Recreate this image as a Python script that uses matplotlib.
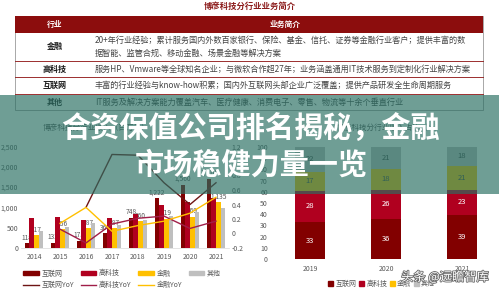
import matplotlib
matplotlib.use('Agg')
import matplotlib.pyplot as plt
import numpy as np
from matplotlib.patches import Rectangle, Patch
from matplotlib.lines import Line2D
import matplotlib.patheffects as pe
from matplotlib.ticker import FuncFormatter, FixedLocator

plt.rcParams['font.family'] = ['Noto Sans CJK SC', 'DejaVu Sans']

# ---------------- data ----------------
table_title = '博彦科技分行业业务简介'
table_header = ['行业', '业务简介']
table_rows = ['金融', '高科技', '互联网', '其他']
table_desc = [
    '20+年行业经验；累计服务国内外数百家银行、保险、基金、信托、证券等金融行业客户；提供丰富的数\n据智能、监管合规、移动金融、场景金融等解决方案',
    '服务HP、Vmware等全球知名企业；与微软合作超27年；业务涵盖通用IT技术服务到定制化行业解决方案',
    '丰富的行业经验与know-how积累；国内外互联网头部企业广泛覆盖；提供产品研发全生命周期服务',
    'IT服务及解决方案能力覆盖汽车、医疗健康、消费电子、零售、物流等十余个垂直行业',
]

years = ['2014', '2015', '2016', '2017', '2018', '2019', '2020', '2021']
rev_internet = [118, 133, 175, 366, 748, 1222, 1560, 1710]
rev_hightech = [735, 760, 690, 735, 830, 1060, 1130, 1220]
rev_finance = [317, 456, 487, 487, 660, 719, 769, 1135]
rev_other = [415, 515, 610, 560, 700, 800, 880, 980]
yoy_internet = [np.nan, np.nan, 0.36, 1.09, 1.08, 0.70, 0.40, 0.70]
yoy_hightech = [np.nan, 0.06, -0.13, 0.13, 0.21, 0.24, 0.07, 0.17]
yoy_finance = [np.nan, 0.14, 0.36, 0.03, 0.11, 0.17, 0.28, 0.50]

share_years = ['2019', '2020', '2021']
share_internet = [33, 36, 39]
share_hightech = [28, 26, 23]
share_finance = [17, 18, 21]
share_other = [22, 21, 18]

series_names = ['互联网', '高科技', '金融', '其他']
yoy_names = ['互联网YoY', '高科技YoY', '金融YoY']
left_subtitle = '博彦科技分行业收入（百万元）'
right_subtitle = '博彦科技分行业收入占比（%）'
headline = ['合资保值公司排名揭秘，金融', '市场稳健力量一览']
watermark = '头条 @远瞻智库'

# ---------------- style ----------------
C_INT = '#820000'
C_HT = '#B0001F'
C_FIN = '#FFC000'
C_OTH = '#BFBFBF'
C_YINT = '#6E1414'
C_YHT = '#A01E48'
C_YFIN = '#FFC000'
GRAY = '#595959'
TABLE_RED = '#8C0D0D'

W, H = 499, 291
fig = plt.figure(figsize=(W / 100, H / 100), dpi=100)


def rect(l, t, r, b):
    return [l / W, 1 - b / H, (r - l) / W, (b - t) / H]


# ---------------- background table ----------------
axt = fig.add_axes([0, 0, 1, 1], zorder=-1)
axt.set_xlim(0, W)
axt.set_ylim(H, 0)
axt.axis('off')

axt.text(250, 6, table_title, ha='center', va='center', fontsize=6,
         color='#8B1A1A', fontweight='bold')
axt.add_patch(Rectangle((15, 16), 468, 94, facecolor='none',
                        edgecolor='#9a9a9a', lw=0.6))
axt.add_patch(Rectangle((15, 16), 468, 17, facecolor=TABLE_RED,
                        edgecolor='none'))
axt.text(55, 24.5, table_header[0], ha='center', va='center', fontsize=5.6,
         color='white', fontweight='bold')
axt.text(285, 24.5, table_header[1], ha='center', va='center', fontsize=5.6,
         color='white', fontweight='bold')
row_edges = [33, 61, 77, 94, 110]
for i, (name, desc) in enumerate(zip(table_rows, table_desc)):
    t, b = row_edges[i], row_edges[i + 1]
    yc = (t + b) / 2
    axt.text(55, yc, name, ha='center', va='center', fontsize=5.8,
             color='#1a1a1a', fontweight='bold')
    axt.text(95, yc, desc, ha='left', va='center', fontsize=5.9,
             color='#454545', linespacing=1.55)
    if i > 0:
        axt.plot([15, 483], [t, t], color=TABLE_RED, lw=0.6)

axt.text(43, 128, left_subtitle, ha='left', va='center', fontsize=5.5,
         color=GRAY)
axt.text(390, 128, right_subtitle, ha='center', va='center', fontsize=5.5,
         color=GRAY)

# ---------------- left chart ----------------
ax1 = fig.add_axes(rect(21, 146.5, 229, 248))
x = np.arange(len(years))
bw = 0.18
series = [rev_internet, rev_hightech, rev_finance, rev_other]
colors = [C_INT, C_HT, C_FIN, C_OTH]
zs = [1, 3, 3, 3]
for k, (vals, col) in enumerate(zip(series, colors)):
    ax1.bar(x + (k - 1.5) * bw, vals, width=bw, color=col, zorder=zs[k],
            label=series_names[k])
for k in (0, 2):
    for xi, v in zip(x, series[k]):
        ax1.text(xi + (k - 1.5) * bw, v + 40, f'{v:,}', ha='center',
                 va='bottom', fontsize=4.8, color=GRAY, zorder=2)
ax1.set_xlim(-0.5, len(years) - 0.5)
ax1.set_ylim(0, 2500)
ax1.yaxis.set_major_locator(FixedLocator([0, 500, 1000, 1500, 2000, 2500]))
ax1.yaxis.set_major_formatter(FuncFormatter(lambda v, p: f'{v:,.0f}'))
ax1.set_xticks(x)
ax1.set_xticklabels(years)
ax1.tick_params(axis='both', length=0, labelsize=5, colors=GRAY)
ax1.tick_params(axis='y', pad=2)
ax1.tick_params(axis='x', pad=3.5)
for s in ['top', 'left', 'right']:
    ax1.spines[s].set_visible(False)
ax1.spines['bottom'].set_color('#d9d9d9')
ax1.spines['bottom'].set_linewidth(0.5)
ax1.patch.set_alpha(0)

ax1b = ax1.twinx()
ax1b.plot(x, yoy_internet, color=C_YINT, lw=1.0, label=yoy_names[0])
ax1b.plot(x, yoy_hightech, color=C_YHT, lw=1.0, label=yoy_names[1])
ax1b.plot(x, yoy_finance, color=C_YFIN, lw=1.0, label=yoy_names[2])
ax1b.set_ylim(-0.2, 1.2)
rticks = [-0.2, 0, 0.2, 0.4, 0.6, 0.8, 1.0, 1.2]
ax1b.yaxis.set_major_locator(FixedLocator(rticks))
ax1b.yaxis.set_major_formatter(FuncFormatter(lambda v, p: f'{v:g}'))
ax1b.tick_params(axis='y', length=0, labelsize=5, colors=GRAY, pad=2)
for s in ax1b.spines.values():
    s.set_visible(False)

handles = [Patch(color=C_INT), Line2D([], [], color=C_YINT, lw=1),
           Patch(color=C_HT), Line2D([], [], color=C_YHT, lw=1),
           Patch(color=C_FIN), Line2D([], [], color=C_YFIN, lw=1),
           Patch(color=C_OTH)]
labels = [series_names[0], yoy_names[0], series_names[1], yoy_names[1],
          series_names[2], yoy_names[2], series_names[3]]
fig.legend(handles, labels, ncol=4, loc='upper left',
           bbox_to_anchor=(20 / W, 1 - 266 / H), frameon=False, fontsize=5,
           handlelength=2.2, handleheight=0.6, handletextpad=0.4,
           columnspacing=1.0, labelspacing=0.5, borderpad=0,
           labelcolor=GRAY)

# ---------------- right chart ----------------
ax2 = fig.add_axes(rect(272, 147, 500, 259))
x2 = np.arange(len(share_years))
bw2 = 0.39
bottom = np.zeros(len(share_years))
stack = [share_internet, share_hightech, share_finance, share_other]
txtcol = ['white', 'white', '#404040', '#404040']
for k, (vals, col) in enumerate(zip(stack, colors)):
    vals = np.array(vals, dtype=float)
    ax2.bar(x2, vals, bw2, bottom=bottom, color=col, label=series_names[k])
    for xi, b, v in zip(x2, bottom, vals):
        ax2.text(xi, b + v / 2, f'{v:.0f}', ha='center', va='center',
                 fontsize=5.5, color=txtcol[k])
    bottom += vals
ax2.set_xlim(-0.5, 2.5)
ax2.set_ylim(0, 100)
ax2.yaxis.set_major_locator(FixedLocator(list(range(0, 101, 10))))
ax2.set_xticks(x2)
ax2.set_xticklabels(share_years)
ax2.tick_params(axis='both', length=0, labelsize=5, colors=GRAY)
ax2.tick_params(axis='y', pad=3)
ax2.tick_params(axis='x', pad=4.5)
for s in ax2.spines.values():
    s.set_visible(False)
ax2.patch.set_alpha(0)
handles2 = [Patch(color=c) for c in colors]
fig.legend(handles2, series_names, ncol=4, loc='center left',
           bbox_to_anchor=(325 / W, 1 - 284 / H), frameon=False, fontsize=5,
           handlelength=0.7, handleheight=0.7, handletextpad=0.3,
           columnspacing=0.4, borderpad=0, labelcolor=GRAY)

# ---------------- overlay ----------------
axo = fig.add_axes([0, 0, 1, 1], zorder=20)
axo.set_xlim(0, W)
axo.set_ylim(H, 0)
axo.axis('off')
axo.add_patch(Rectangle((0, 95), W, 99, facecolor=(40 / 255, 110 / 255, 98 / 255),
                        alpha=0.67, edgecolor='none'))
axo.text(250, 128, headline[0], ha='center', va='center', fontsize=21,
         color='white', fontweight='bold')
axo.text(251, 165, headline[1], ha='center', va='center', fontsize=21,
         color='white', fontweight='bold')
axo.text(445, 277, watermark, ha='center', va='center', fontsize=8.8,
         color='white',
         path_effects=[pe.withStroke(linewidth=1.2, foreground='#6a6a6a')])

fig.savefig('out.png', dpi=100)
